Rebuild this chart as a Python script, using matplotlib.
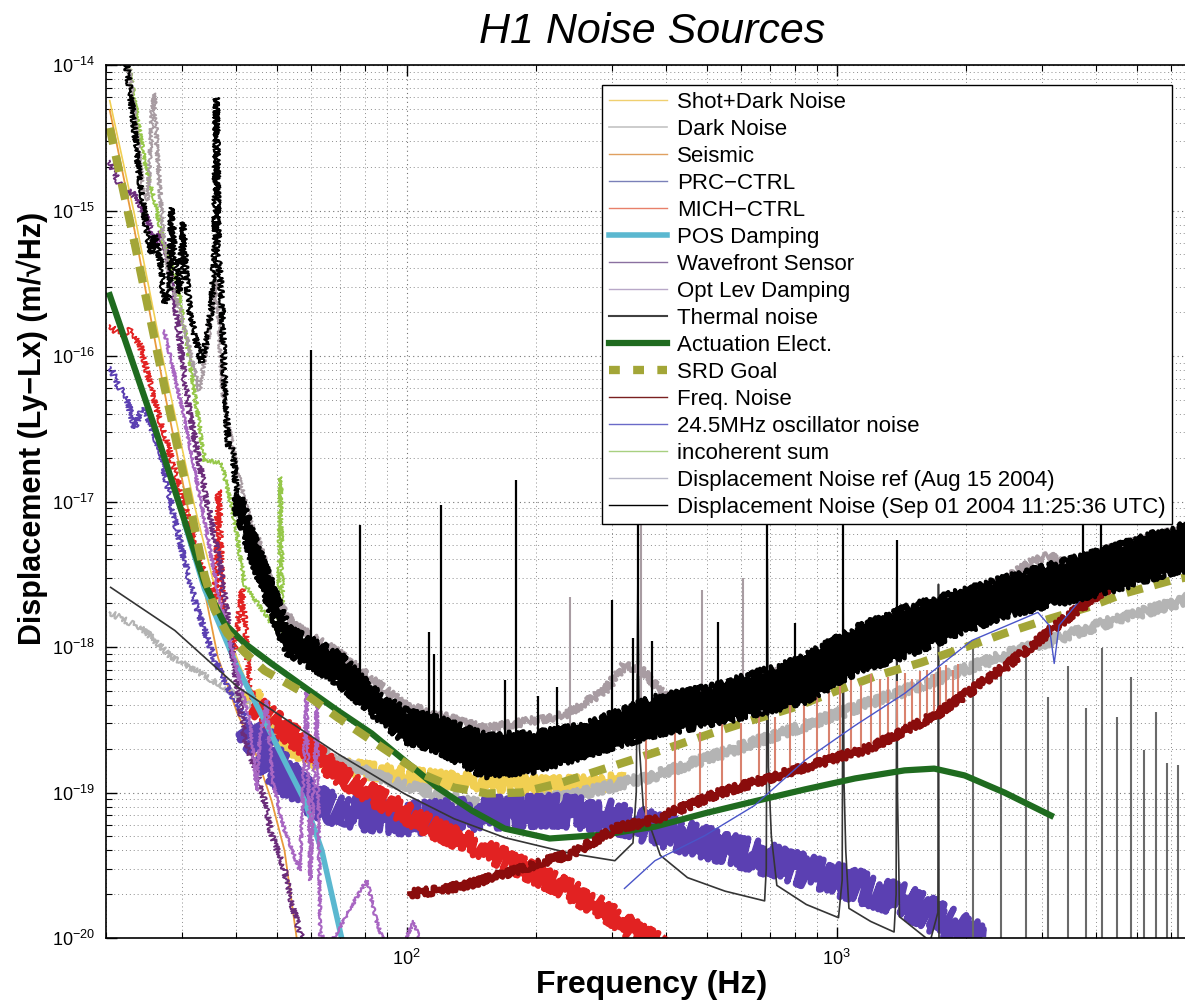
import matplotlib
matplotlib.use("Agg")
import matplotlib.pyplot as plt
from matplotlib.lines import Line2D

plt.rcParams['font.family'] = 'Liberation Sans'
plt.rcParams['mathtext.fontset'] = 'custom'
plt.rcParams['mathtext.rm'] = 'Liberation Sans'
plt.rcParams['mathtext.it'] = 'Liberation Sans:italic'
plt.rcParams['mathtext.bf'] = 'Liberation Sans:bold'

# frequencies in Hz, displacement in m/rtHz
shot_f = [20.4, 23.3, 27.3, 32.1, 37.7, 43.2, 49.3, 57.9, 75.7, 98.9, 129, 169, 221, 270, 320]
shot_v = [5.7e-15, 9.3e-16, 8.7e-17, 9.4e-18, 1.4e-18, 5.0e-19, 2.5e-19, 1.74e-19, 1.46e-19,
          1.31e-19, 1.21e-19, 1.15e-19, 1.13e-19, 1.15e-19, 1.2e-19]

dark_f = [20.4, 24.6, 28.4, 33.9, 42.0, 52.0, 68.0, 98.9, 152, 242, 378, 548, 843, 1439, 2455, 4185, 7000]
dark_v = [1.73e-18, 1.30e-18, 8.5e-19, 6.4e-19, 4.3e-19, 2.67e-19, 1.66e-19, 1.12e-19, 8.1e-20,
          9.5e-20, 1.31e-19, 1.88e-19, 2.89e-19, 5.0e-19, 8.8e-19, 1.45e-18, 2.25e-18]

seis_f = [20.4, 23.3, 27.3, 32.1, 36.4, 40.4, 44.3, 48.5, 52.0, 55.5]
seis_v = [4.9e-15, 7.3e-16, 5.8e-17, 5.4e-18, 8.5e-19, 3.5e-19, 1.95e-19, 8.8e-20, 4.0e-20, 1.0e-20]

prc_low_f = [20.5, 21.2, 22.4, 23.3, 24.3, 25.0, 26.7, 28.9, 32.1, 35.8, 39.8, 43.2]
prc_low_v = [8.4e-17, 6.5e-17, 5.0e-17, 3.2e-17, 4.4e-17, 3.8e-17, 2.25e-17, 7.4e-18, 2.1e-18,
             8.1e-19, 4.3e-19, 2.9e-19]
prc_f = [43.2, 49.3, 57.9, 71.7, 98.9, 129, 169, 221, 289, 378, 494, 644, 843, 1104, 1439, 1782, 2150]
prc_v = [2.9e-19, 1.53e-19, 9.5e-20, 7.3e-20, 6.6e-20, 6.95e-20, 7.3e-20, 7.5e-20, 6.95e-20,
         5.65e-20, 4.5e-20, 3.7e-20, 2.9e-20, 2.3e-20, 1.8e-20, 1.3e-20, 9.6e-21]

mich_f = [20.4, 21.5, 22.7, 24.0, 25.9, 28.9, 32.1, 35.8, 36.5, 37.5, 39.8, 41.5, 43.0, 44.3,
          49.3, 57.9, 68.0, 79.8, 98.9, 116, 144, 169, 202, 242, 289, 339, 390]
mich_v = [1.63e-16, 1.39e-16, 1.50e-16, 1.19e-16, 5.0e-17, 1.64e-17, 5.4e-18, 1.8e-18, 1.2e-17,
          1.5e-18, 9.5e-19, 2.5e-18, 6.0e-19, 4.0e-19, 3.1e-19, 2.1e-19, 1.42e-19, 1.03e-19,
          7.3e-20, 5.65e-20, 4.3e-20, 3.5e-20, 2.7e-20, 2.1e-20, 1.54e-20, 1.12e-20, 8.9e-21]

pos_f = [30.5, 33.9, 40.4, 46.7, 52.9, 57.9, 63.5, 70.6]
pos_v = [7.0e-18, 2.5e-18, 7.25e-19, 3.13e-19, 1.49e-19, 8.8e-20, 4.0e-20, 1.0e-20]

wfs_f = [20.4, 21.3, 22.0, 22.9, 23.7, 25.0, 25.9, 26.7, 27.8, 28.9, 30.9, 33.9, 36.7, 39.3,
         42.0, 45.6, 48.5, 52.0, 53.9, 57.0]
wfs_v = [2.2e-15, 1.6e-15, 1.3e-15, 1.34e-15, 1.18e-15, 8.6e-16, 5.8e-16, 7.1e-16, 4.8e-16,
         2.4e-16, 5.0e-17, 1.2e-17, 3.9e-18, 9.5e-19, 2.3e-19, 1.2e-19, 5.2e-20, 2.9e-20, 1.8e-20, 1.0e-20]

optlev_f = [27.3, 30.5, 33.9, 36.7, 39.8, 43.2, 44.8, 45.5, 47.2, 48.8, 52.0, 56.5, 58.5, 59.7,
            61.8, 63.0, 67.0, 75.7, 80.8, 85.2, 89.0, 98.0, 104, 108]
optlev_v = [1.5e-16, 3.6e-17, 7.4e-18, 2.1e-18, 8.1e-19, 3.1e-19, 1.03e-19, 2.3e-19, 4.3e-19,
            1.2e-19, 5.5e-20, 2.9e-20, 5.0e-19, 2.5e-20, 4.3e-19, 1.04e-20, 9.5e-21, 1.8e-20,
            2.5e-20, 1.3e-20, 9.0e-21, 9.0e-21, 1.3e-20, 9.0e-21]

thermal_f = [20.5, 28.9, 40.5, 54.9, 69.1, 98.9, 129, 169, 242, 305, 336, 342, 345, 348, 355,
             389, 450, 550, 680, 686, 690, 694, 705, 726, 850, 1010, 1030, 1035, 1040, 1050,
             1068, 1200, 1360, 1375, 1380, 1385, 1395, 1400, 1650, 1720, 1725, 1730]
thermal_v = [2.57e-18, 1.30e-18, 5.3e-19, 2.9e-19, 1.85e-19, 9.8e-20, 6.6e-20, 4.9e-20, 3.8e-20,
             3.4e-20, 4.5e-20, 1.0e-19, 3.0e-18, 2.0e-19, 8.0e-20, 3.7e-20, 2.6e-20, 2.1e-20,
             1.8e-20, 3.0e-20, 4.0e-18, 1.5e-19, 5.0e-20, 2.3e-20, 1.7e-20, 1.38e-20, 2.5e-20,
             3.0e-18, 1.2e-19, 4.0e-20, 1.6e-20, 1.3e-20, 1.1e-20, 2.0e-20, 3.0e-18, 1.0e-19,
             3.0e-20, 1.4e-20, 9.5e-21, 1.5e-20, 2.7e-18, 9.0e-21]
violin_f = [2070, 2415, 2760, 3105, 3450, 3795, 4140, 4485, 4830, 5175, 5520, 5865, 6210, 6555]
violin_top = [9.9e-19, 7.2e-19, 8.5e-19, 4.5e-19, 7.4e-19, 3.8e-19, 9.8e-19, 3.3e-19, 6.2e-19,
              1.95e-19, 3.6e-19, 1.6e-19, 1.55e-19, 2.5e-19]

act_f = [20.4, 25.9, 33.9, 37.7, 42.0, 48.5, 57.9, 69.1, 82.9, 98.9, 118, 142, 169, 215, 289,
         378, 494, 644, 843, 1104, 1439, 1687, 1985, 2455, 3150]
act_v = [2.62e-16, 3.3e-17, 2.73e-18, 1.45e-18, 1.06e-18, 7.7e-19, 5.3e-19, 3.66e-19, 2.55e-19,
         1.66e-19, 1.08e-19, 7.5e-20, 5.65e-20, 4.83e-20, 5.14e-20, 5.83e-20, 7.2e-20, 8.7e-20,
         1.05e-19, 1.25e-19, 1.42e-19, 1.46e-19, 1.31e-19, 1.0e-19, 6.95e-20]

srd_f = [20.4, 23.3, 27.3, 31.0, 33.9, 35.8, 38.3, 42.0, 46.7, 57.9, 69.1, 82.9, 108, 129, 154,
         185, 229, 289, 404, 511, 634, 797, 1005, 1245, 1575, 1985, 2455, 3030, 3830, 4675, 6000, 7000]
srd_v = [3.7e-15, 6.0e-16, 6.3e-17, 1.1e-17, 3.1e-18, 1.8e-18, 1.24e-18, 9.2e-19, 6.9e-19,
         4.8e-19, 3.28e-19, 2.28e-19, 1.35e-19, 1.08e-19, 9.85e-20, 1.0e-19, 1.17e-19, 1.46e-19,
         2.01e-19, 2.55e-19, 3.13e-19, 3.85e-19, 5.03e-19, 6.38e-19, 7.84e-19, 9.93e-19, 1.24e-18,
         1.52e-18, 1.87e-18, 2.34e-18, 2.87e-18, 3.15e-18]

freq_f = [101.6, 118, 142, 169, 202, 242, 310, 371, 529, 843, 1205, 1721, 2455, 3530, 4185, 4920, 7000]
freq_v = [2.02e-20, 2.12e-20, 2.37e-20, 2.77e-20, 3.25e-20, 3.8e-20, 5.74e-20, 6.41e-20, 9.84e-20,
          1.49e-19, 2.04e-19, 3.49e-19, 7.25e-19, 1.7e-18, 2.45e-18, 3.1e-18, 4.5e-18]

# power line harmonics riding on the frequency noise
comb_f = [360, 420, 480, 540, 600, 660, 720, 780, 840, 900, 960, 1020, 1080, 1140, 1200, 1260,
          1320, 1380, 1440, 1500, 1560, 1620, 1680, 1740, 1800, 1860, 1920]
comb_top = [3.0e-19, 2.6e-19, 2.6e-19, 3.2e-19, 3.0e-19, 3.5e-19, 3.3e-19, 4.3e-19, 4.0e-19,
            4.5e-19, 5.0e-19, 5.5e-19, 6.0e-19, 5.5e-19, 6.5e-19, 6.0e-19, 6.2e-19, 5.8e-19,
            6.6e-19, 6.0e-19, 6.8e-19, 7.0e-19, 6.5e-19, 7.3e-19, 7.5e-19, 7.0e-19, 7.6e-19]
comb_base = [6.3e-20, 7.0e-20, 8.0e-20, 1.0e-19, 1.05e-19, 1.1e-19, 1.2e-19, 1.3e-19, 1.45e-19,
             1.55e-19, 1.65e-19, 1.75e-19, 1.85e-19, 1.95e-19, 2.0e-19, 2.15e-19, 2.3e-19, 2.45e-19,
             2.6e-19, 2.75e-19, 2.9e-19, 3.1e-19, 3.3e-19, 3.5e-19, 3.8e-19, 4.1e-19, 4.4e-19]

osc_f = [321, 378, 494, 644, 843, 1104, 1439, 2063, 2937, 3120, 3206, 3290, 3845, 4675, 6630]
osc_v = [2.19e-20, 3.4e-20, 5.06e-20, 8.14e-20, 1.66e-19, 2.89e-19, 4.8e-19, 1.11e-18, 1.73e-18,
         1.41e-18, 7.71e-19, 1.41e-18, 2.45e-18, 3.36e-18, 5.41e-18]

inc_f = [22.6, 23.7, 24.6, 25.9, 27.3, 29.2, 31.3, 33.9, 37.1, 39.8, 42.0, 48.5, 50.2, 50.9, 51.6,
         57.9, 69.1, 98.9, 152, 221, 378, 843, 2455, 7000]
inc_v = [1.0e-14, 4.2e-15, 2.2e-15, 1.18e-15, 5.8e-16, 3.3e-16, 9.4e-17, 1.9e-17, 1.86e-17, 7.4e-18,
         2.7e-18, 1.45e-18, 1.3e-18, 1.47e-17, 1.25e-18, 9.5e-19, 6.9e-19, 3.1e-19, 2.0e-19,
         2.1e-19, 3.4e-19, 6.9e-19, 1.93e-18, 4.9e-18]

ref_f = [22.6, 23.7, 24.4, 25.0, 25.6, 25.9, 26.3, 27.1, 28.1, 29.7, 31.3, 33.0, 34.8, 36.1, 37.3,
         38.7, 40.9, 44.3, 49.3, 54.9, 69.1, 98.9, 152, 233, 289, 321, 358, 398, 529, 843, 1439,
         2455, 2884, 3120, 3480, 4185, 7000]
ref_v = [1.0e-14, 3.05e-15, 1.38e-15, 1.18e-15, 4.9e-15, 6.4e-15, 2.6e-15, 7.3e-16, 3.3e-16,
         2.06e-16, 1.1e-16, 5.8e-17, 1.5e-16, 3.3e-16, 5.8e-17, 3.1e-17, 1.4e-17, 5.9e-18, 2.1e-18,
         1.41e-18, 9.2e-19, 4.0e-19, 2.75e-19, 3.4e-19, 5.0e-19, 7.5e-19, 6.7e-19, 4.6e-19, 4.8e-19,
         7.9e-19, 1.72e-18, 2.9e-18, 3.94e-18, 4.27e-18, 3.48e-18, 4.6e-18, 7.0e-18]
ref_spk_f = [240, 350, 485, 606]
ref_spk_top = [2.2e-18, 5.0e-17, 2.45e-18, 3.0e-18]
ref_spk_base = [2.6e-19, 4.0e-19, 5.0e-19, 6.0e-19]

disp_low_f = [22.3, 23.1, 23.7, 24.3, 25.0, 25.5, 25.9, 26.8, 27.3, 28.1, 28.4, 28.8, 29.2, 29.7,
              30.2, 30.6, 31.3, 32.1, 33.3, 34.3, 35.2, 35.8, 36.1, 36.5, 37.1, 37.7, 38.5, 39.4, 40.4]
disp_low_v = [1.05e-14, 4.5e-15, 2.2e-15, 1.18e-15, 6.6e-16, 5.1e-16, 6.8e-16, 4.4e-16, 2.3e-16,
              2.7e-16, 1.04e-15, 5.3e-16, 3.5e-16, 2.7e-16, 8.3e-16, 4.1e-16, 2.0e-16, 1.43e-16,
              9.1e-17, 1.29e-16, 2.2e-16, 5.3e-16, 5.9e-15, 4.6e-16, 2.8e-16, 6.8e-17, 2.4e-17,
              2.25e-17, 1.02e-17]
disp_band_f = [40.4, 44.3, 52.9, 69.1, 82.9, 98.9, 118, 152, 198, 259, 371, 529, 830, 1103,
               1439, 2455, 4185, 6000, 7000]
disp_band_hi = [1.1e-17, 5.0e-18, 1.3e-18, 8.8e-19, 5.0e-19, 3.55e-19, 3.13e-19, 2.39e-19, 2.46e-19,
                2.8e-19, 4.3e-19, 5.27e-19, 8.1e-19, 1.3e-18, 1.79e-18, 2.87e-18, 4.48e-18, 6.34e-18, 7.0e-18]
disp_band_lo = [9.4e-18, 3.94e-18, 9.5e-19, 5.9e-19, 3.66e-19, 2.35e-19, 2.01e-19, 1.35e-19, 1.46e-19,
                1.85e-19, 2.55e-19, 3.13e-19, 4.3e-19, 6.9e-19, 9.0e-19, 1.7e-18, 2.45e-18, 3.36e-18, 3.7e-18]
disp_spk_f = [60, 77.7, 113, 116, 120, 169, 180, 202, 224, 300, 336, 345, 373, 529, 690, 798,
              1035, 1380, 3750, 4110]
disp_spk_top = [1.1e-16, 6.9e-18, 1.26e-18, 9.0e-19, 9.4e-18, 5.9e-19, 1.4e-17, 4.6e-19, 5.3e-19,
                2.1e-18, 1.16e-18, 7.0e-17, 1.1e-18, 1.48e-18, 7.0e-17, 1.47e-18, 1.6e-17, 5.4e-18,
                7.4e-18, 8.9e-18]
disp_spk_base = [9.0e-19, 5.0e-19, 3.0e-19, 3.0e-19, 2.9e-19, 2.4e-19, 2.3e-19, 2.4e-19, 2.5e-19,
                 2.8e-19, 3.5e-19, 3.6e-19, 4.0e-19, 5.0e-19, 6.5e-19, 7.5e-19, 1.0e-18, 1.3e-18,
                 4.0e-18, 4.2e-18]

c_shot = '#f1cf52'
c_dark = '#b4b4b4'
c_seis = '#e89a3c'
c_prc = '#5b40b2'
c_mich = '#e22222'
c_pos = '#5bb8d0'
c_wfs = '#6b2d7a'
c_opt = '#a866c2'
c_therm = '#353535'
c_act = '#1f6b1f'
c_srd = '#a3a637'
c_freq = '#8a0c0c'
c_osc = '#4a55c8'
c_inc = '#96c84a'
c_ref = '#a89ca2'
c_comb = '#d9826e'

fig = plt.figure(figsize=(11.85, 10.07), dpi=100)
ax = fig.add_axes([0.0895, 0.0685, 0.9232, 0.8669])
ax.set_xscale('log')
ax.set_yscale('log')


def trace(f, v, color, lw, wiggle=0, **kw):
    # wiggle: half width (px) of the jagged spectral band around the trace
    ln, = ax.plot(f, v, color=color, lw=lw, solid_joinstyle='round', **kw)
    if wiggle:
        ln.set_sketch_params(wiggle, 0.5, 2)
    return ln


trace(shot_f[:6], shot_v[:6], c_shot, 1.2)
trace(shot_f[5:], shot_v[5:], c_shot, 4, 8)
trace(dark_f[:6], dark_v[:6], c_dark, 1.5, 3)
trace(dark_f[5:], dark_v[5:], c_dark, 3.5, 5)
trace(seis_f, seis_v, c_seis, 1.3)
trace(prc_low_f, prc_low_v, c_prc, 1.3, 3)
trace(prc_f, prc_v, c_prc, 4.5, 16)
trace(mich_f[:14], mich_v[:14], c_mich, 1.3, 3)
trace(mich_f[13:], mich_v[13:], c_mich, 4, 10)
trace(pos_f, pos_v, c_pos, 4)
trace(wfs_f, wfs_v, c_wfs, 1.3, 3)
trace(optlev_f, optlev_v, c_opt, 1.5, 1.5)
trace(thermal_f, thermal_v, c_therm, 1.2)
ax.vlines(violin_f, 1e-20, violin_top, color='#6a6a6a', lw=1.5)
trace(act_f, act_v, c_act, 4.5)
trace(srd_f, srd_v, c_srd, 6, dashes=(2.0, 1.4))
ax.vlines(comb_f, comb_base, comb_top, color=c_comb, lw=1.5)
trace(freq_f, freq_v, c_freq, 3.5, 4)
trace(osc_f, osc_v, c_osc, 1.0)
trace(inc_f, inc_v, c_inc, 1.3, 2)
trace(ref_f[:18], ref_v[:18], c_ref, 1.3, 2)
trace(ref_f[17:], ref_v[17:], c_ref, 2.5, 4)
ax.vlines(ref_spk_f, ref_spk_base, ref_spk_top, color=c_ref, lw=1.5)
trace(disp_low_f, disp_low_v, 'black', 1.5, 3)
band = ax.fill_between(disp_band_f, disp_band_lo, disp_band_hi, color='black', lw=0, zorder=2.5)
trace(disp_band_f, disp_band_hi, 'black', 3, 5, zorder=2.6)
trace(disp_band_f, disp_band_lo, 'black', 3, 5, zorder=2.6)
ax.vlines(disp_spk_f, disp_spk_base, disp_spk_top, color='black', lw=1.6, zorder=2.6)

ax.set_xlim(20, 7000)
ax.set_ylim(1e-20, 1e-14)
ax.set_xticks([100, 1000])
ax.set_yticks([1e-20, 1e-19, 1e-18, 1e-17, 1e-16, 1e-15, 1e-14])
ax.grid(True, which='major', linestyle=(0, (1, 3)), color='0.45', lw=0.8)
ax.grid(True, which='minor', linestyle=(0, (1, 3)), color='0.55', lw=0.7)
ax.set_axisbelow(True)
ax.tick_params(which='both', direction='in', top=True, right=True, labelsize=13)
ax.tick_params(which='major', length=8, width=1, pad=8)
ax.tick_params(which='minor', length=4, width=0.8)
for s in ax.spines.values():
    s.set_linewidth(1.2)

fig.text(0.550, 0.968, 'H1 Noise Sources', fontsize=31, fontstyle='italic', ha='center', va='center')
fig.text(0.550, 0.022, 'Frequency (Hz)', fontsize=23, fontweight='bold', ha='center', va='center')
fig.text(0.027, 0.575, 'Displacement (Ly\u2212Lx) (m/\u221aHz)', fontsize=22, fontweight='bold',
         ha='center', va='center', rotation=90)

labels = ['Shot+Dark Noise', 'Dark Noise', 'Seismic', 'PRC\u2212CTRL', 'MICH\u2212CTRL', 'POS Damping',
          'Wavefront Sensor', 'Opt Lev Damping', 'Thermal noise', 'Actuation Elect.', 'SRD Goal',
          'Freq. Noise', '24.5MHz oscillator noise', 'incoherent sum',
          'Displacement Noise ref (Aug 15 2004)', 'Displacement Noise (Sep 01 2004 11:25:36 UTC)']
handles = [Line2D([], [], color='#f0d070', lw=1),
           Line2D([], [], color='#c4c4c4', lw=1.2),
           Line2D([], [], color='#e0a060', lw=1),
           Line2D([], [], color='#7a80b8', lw=1),
           Line2D([], [], color='#e8806a', lw=1),
           Line2D([], [], color=c_pos, lw=4),
           Line2D([], [], color='#8a70a0', lw=1),
           Line2D([], [], color='#b8a8c8', lw=1),
           Line2D([], [], color='#404040', lw=1.5),
           Line2D([], [], color=c_act, lw=4.5),
           Line2D([], [], color=c_srd, lw=6, dashes=(1.3, 1.6)),
           Line2D([], [], color='#7a2020', lw=1),
           Line2D([], [], color='#6a6ac8', lw=1),
           Line2D([], [], color='#a8d080', lw=1),
           Line2D([], [], color='#b8b8c8', lw=1),
           Line2D([], [], color='black', lw=1)]
leg = ax.legend(handles, labels, loc='upper right', bbox_to_anchor=(1172 / 1185, 1 - 85 / 1007),
                bbox_transform=fig.transFigure, fontsize=16, labelspacing=0.27, borderpad=0.3,
                handlelength=2.6, handletextpad=0.45, fancybox=False, framealpha=1,
                edgecolor='black', borderaxespad=0)
leg.get_frame().set_linewidth(1.0)
leg.set_zorder(10)

fig.savefig('out.png', dpi=100)
